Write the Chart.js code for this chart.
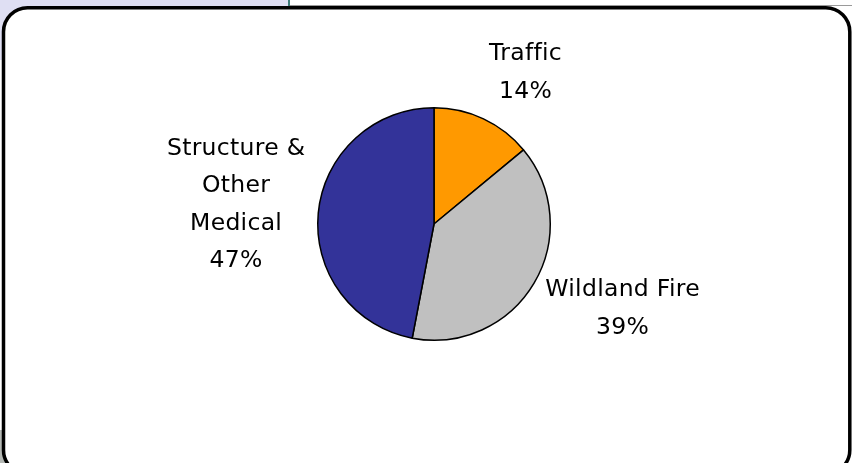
<!DOCTYPE html>
<html>
<head>
<meta charset="utf-8">
<script src="https://cdn.jsdelivr.net/npm/chart.js@4/dist/chart.umd.min.js"></script>
<style>
  html, body { margin: 0; padding: 0; background: #ffffff; }
  body { width: 852px; height: 463px; overflow: hidden; }
  canvas { display: block; }
</style>
</head>
<body>
<canvas id="chart" width="852" height="463"></canvas>
<script>
// Incident categories and their share of the total (percent)
const categories = ['Traffic', 'Wildland Fire', ['Structure &', 'Other', 'Medical']];
const shares = [14, 39, 47];
const sliceColors = ['#FF9900', '#C0C0C0', '#333399'];

const LABEL_FONT = '23.5px "DejaVu Sans", Verdana, sans-serif';
const LINE_HEIGHT = 37.5;
const LABEL_GAP = 13;

// Page backdrop: tab strip at the top and the rounded black frame around the chart.
const framePanel = {
  id: 'framePanel',
  beforeDraw(chart) {
    const ctx = chart.ctx;
    const W = chart.width, H = chart.height;
    ctx.save();
    ctx.fillStyle = '#ffffff';
    ctx.fillRect(0, 0, W, H);
    ctx.fillStyle = '#dfdff3';
    ctx.fillRect(0, 0, 289, 60);
    ctx.fillStyle = '#3d7a78';
    ctx.fillRect(288, 0, 2, 6);
    ctx.fillStyle = '#9a9a9a';
    ctx.fillRect(290, 5, W - 290, 1);
    ctx.fillStyle = '#b4b8b4';
    ctx.fillRect(0, 430, 40, H - 430);

    const x0 = 3.5, y0 = 7.8, x1 = 849.8, y1 = 474, r = 24;
    ctx.beginPath();
    ctx.moveTo(x0 + r, y0);
    ctx.lineTo(x1 - r, y0);
    ctx.arcTo(x1, y0, x1, y0 + r, r);
    ctx.lineTo(x1, y1 - r);
    ctx.arcTo(x1, y1, x1 - r, y1, r);
    ctx.lineTo(x0 + r, y1);
    ctx.arcTo(x0, y1, x0, y1 - r, r);
    ctx.lineTo(x0, y0 + r);
    ctx.arcTo(x0, y0, x0 + r, y0, r);
    ctx.closePath();
    ctx.fillStyle = '#ffffff';
    ctx.fill();
    ctx.lineWidth = 3.5;
    ctx.strokeStyle = '#000000';
    ctx.stroke();
    ctx.restore();
  }
};

// Draws "name / percent" labels outside each slice, anchored on the slice's mid-angle.
const outsideLabels = {
  id: 'outsideLabels',
  afterDatasetsDraw(chart) {
    const ctx = chart.ctx;
    const meta = chart.getDatasetMeta(0);
    const values = chart.data.datasets[0].data;
    const total = values.reduce((a, b) => a + b, 0);
    ctx.save();
    ctx.font = LABEL_FONT;
    if ('letterSpacing' in ctx) ctx.letterSpacing = '0.3px';
    ctx.fillStyle = '#000000';
    ctx.textAlign = 'center';
    ctx.textBaseline = 'middle';
    meta.data.forEach((arc, i) => {
      const p = arc.getProps(['x', 'y', 'startAngle', 'endAngle', 'outerRadius'], true);
      const mid = (p.startAngle + p.endAngle) / 2;
      const dx = Math.cos(mid), dy = Math.sin(mid);
      const name = chart.data.labels[i];
      const nameLines = Array.isArray(name) ? name : [name];
      const lines = nameLines.concat([Math.round(values[i] / total * 100) + '%']);
      const w = Math.max(...lines.map(t => ctx.measureText(t).width));
      const h = lines.length * LINE_HEIGHT;
      const R = p.outerRadius + LABEL_GAP;
      const ax = p.x + R * dx;
      const ay = p.y + R * dy;
      // the block sits beside the anchor, pushed outward along the slice direction
      const cx = ax + Math.sign(dx) * w / 2;
      const cy = ay + dy * h / 2;
      lines.forEach((t, k) => {
        const y = cy + (k - (lines.length - 1) / 2) * LINE_HEIGHT;
        ctx.fillText(t, cx, y);
      });
    });
    ctx.restore();
  }
};

new Chart(document.getElementById('chart'), {
  type: 'pie',
  data: {
    labels: categories,
    datasets: [{
      data: shares,
      backgroundColor: sliceColors,
      borderColor: '#000000',
      borderWidth: 1.5
    }]
  },
  options: {
    responsive: false,
    animation: false,
    layout: { padding: { top: 107, bottom: 122, left: 316, right: 300 } },
    plugins: {
      legend: { display: false },
      tooltip: { enabled: false },
      title: { display: false }
    }
  },
  plugins: [framePanel, outsideLabels]
});
</script>
</body>
</html>
